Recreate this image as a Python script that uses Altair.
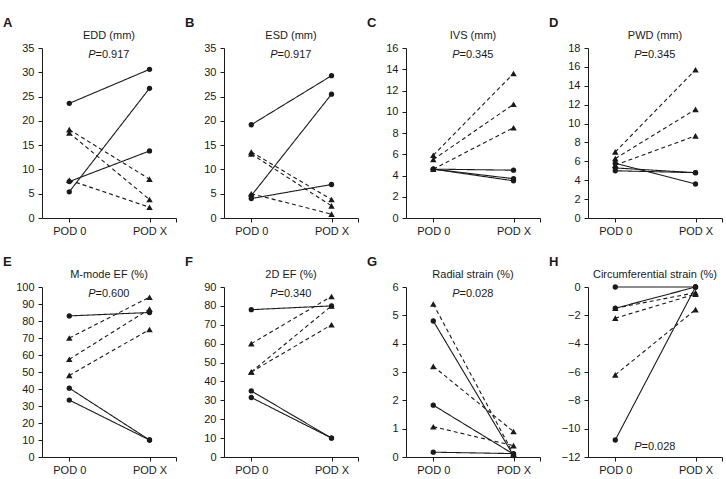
import altair as alt
import pandas as pd

# Subject groups: first three drawn as solid lines with circles,
# last three as dashed lines with triangles.
GROUPS = ["solid", "solid", "solid", "dashed", "dashed", "dashed"]
VISIT_LABELS = ["POD 0", "POD X"]

EDD_POD0 = [23.6, 5.4, 7.5, 18.2, 17.5, 7.8]
EDD_PODX = [30.6, 26.7, 13.8, 8.0, 3.8, 2.2]

ESD_POD0 = [19.2, 4.6, 4.0, 13.6, 13.2, 5.0]
ESD_PODX = [29.3, 25.5, 6.9, 3.8, 2.5, 0.8]

IVS_POD0 = [4.6, 4.6, 4.6, 5.9, 5.5, 4.6]
IVS_PODX = [4.5, 3.7, 3.5, 13.6, 10.7, 8.5]

PWD_POD0 = [5.0, 5.3, 5.8, 7.0, 6.3, 5.6]
PWD_PODX = [4.8, 4.8, 3.6, 15.7, 11.5, 8.7]

MMODE_EF_POD0 = [83.0, 40.5, 33.5, 70.0, 57.5, 48.0]
MMODE_EF_PODX = [85.0, 10.0, 10.0, 94.0, 87.0, 75.0]

EF2D_POD0 = [78.0, 35.0, 31.5, 60.0, 45.0, 45.0]
EF2D_PODX = [80.0, 10.0, 10.0, 85.0, 80.0, 70.0]

RADIAL_POD0 = [4.8, 1.83, 0.17, 5.4, 3.2, 1.07]
RADIAL_PODX = [0.05, 0.1, 0.12, 0.1, 0.9, 0.4]

CIRC_POD0 = [0.0, -1.5, -10.8, -1.5, -2.2, -6.2]
CIRC_PODX = [0.0, 0.0, 0.0, -0.4, -0.5, -1.6]

LETTERS = ["A", "B", "C", "D", "E", "F", "G", "H"]
TITLES = ["EDD (mm)", "ESD (mm)", "IVS (mm)", "PWD (mm)",
          "M-mode EF (%)", "2D EF (%)", "Radial strain (%)",
          "Circumferential strain (%)"]
P_VALUES = ["0.917", "0.917", "0.345", "0.345", "0.600", "0.340", "0.028", "0.028"]
Y_RANGES = [(0, 35, 5), (0, 35, 5), (0, 16, 2), (0, 18, 2),
            (0, 100, 10), (0, 90, 10), (0, 6, 1), (-12, 0, 2)]
P_AT_BOTTOM = [False, False, False, False, False, False, False, True]
SERIES = [(EDD_POD0, EDD_PODX), (ESD_POD0, ESD_PODX), (IVS_POD0, IVS_PODX),
          (PWD_POD0, PWD_PODX), (MMODE_EF_POD0, MMODE_EF_PODX),
          (EF2D_POD0, EF2D_PODX), (RADIAL_POD0, RADIAL_PODX),
          (CIRC_POD0, CIRC_PODX)]

W, H = 134, 170
FONT = "Liberation Sans"
INK = "#1a1a1a"


def text_layer(text, x, y, **kw):
    return (alt.Chart(pd.DataFrame({"t": [text]}))
            .mark_text(font=FONT, color=INK, **kw)
            .encode(text="t:N", x=alt.value(x), y=alt.value(y)))


def panel(letter, title, pval, pod0, podx, yr, p_bottom):
    ymin, ymax, step = yr
    rows = []
    for i, (a, b) in enumerate(zip(pod0, podx)):
        rows.append({"subject": i, "group": GROUPS[i], "visit": 0, "value": a})
        rows.append({"subject": i, "group": GROUPS[i], "visit": 1, "value": b})
    df = pd.DataFrame(rows)

    x = alt.X("visit:Q",
              scale=alt.Scale(domain=[-0.34, 1.33], nice=False, zero=False),
              axis=alt.Axis(values=[0, 1, 1.33], title=None, grid=False,
                            labelExpr=f"datum.value == 0 ? '{VISIT_LABELS[0]}' : "
                                      f"(datum.value == 1 ? '{VISIT_LABELS[1]}' : '')",
                            labelPadding=3))
    y = alt.Y("value:Q",
              scale=alt.Scale(domain=[ymin, ymax], nice=False, zero=False),
              axis=alt.Axis(values=list(range(ymin, ymax + 1, step)), title=None,
                            grid=False, labelPadding=4))

    base = alt.Chart(df).encode(x=x, y=y, detail="subject:N")
    lines = base.mark_line(color=INK, strokeWidth=1.1).encode(
        strokeDash=alt.StrokeDash("group:N",
                                  scale=alt.Scale(domain=["solid", "dashed"],
                                                  range=[[1, 0], [4, 3]]),
                                  legend=None))
    points = base.mark_point(filled=True, color=INK, opacity=1).encode(
        shape=alt.Shape("group:N",
                        scale=alt.Scale(domain=["solid", "dashed"],
                                        range=["circle", "triangle-up"]),
                        legend=None),
        size=alt.Size("group:N",
                      scale=alt.Scale(domain=["solid", "dashed"], range=[28, 42]),
                      legend=None))

    cx = W / 2
    py = 163 if p_bottom else 10
    layers = [
        lines, points,
        text_layer(letter, -39, -31, fontSize=13, fontWeight="bold",
                   align="left", baseline="top"),
        text_layer(title, cx, -9, fontSize=11, align="center",
                   baseline="alphabetic"),
        text_layer("P", cx - 13.5, py, fontSize=11, fontStyle="italic",
                   align="right", baseline="alphabetic"),
        text_layer("=" + pval, cx - 13.5, py, fontSize=11, align="left",
                   baseline="alphabetic"),
    ]
    return alt.layer(*layers).properties(width=W, height=H)


panels = [panel(LETTERS[i], TITLES[i], P_VALUES[i], SERIES[i][0], SERIES[i][1],
                Y_RANGES[i], P_AT_BOTTOM[i]) for i in range(8)]

chart = (alt.concat(*panels, columns=4, spacing=alt.RowColnumber(row=69, column=48),
                    bounds="flush")
         .properties(padding={"left": 3, "top": 17, "right": 0, "bottom": 0},
                     background="white")
         .configure_view(stroke=None)
         .configure_axis(domainColor=INK, tickColor=INK, labelColor=INK,
                         labelFont=FONT, labelFontSize=11, tickSize=4,
                         domainWidth=1, tickWidth=1))

chart.save("out.html", embed_options={"renderer": "svg", "actions": False})
